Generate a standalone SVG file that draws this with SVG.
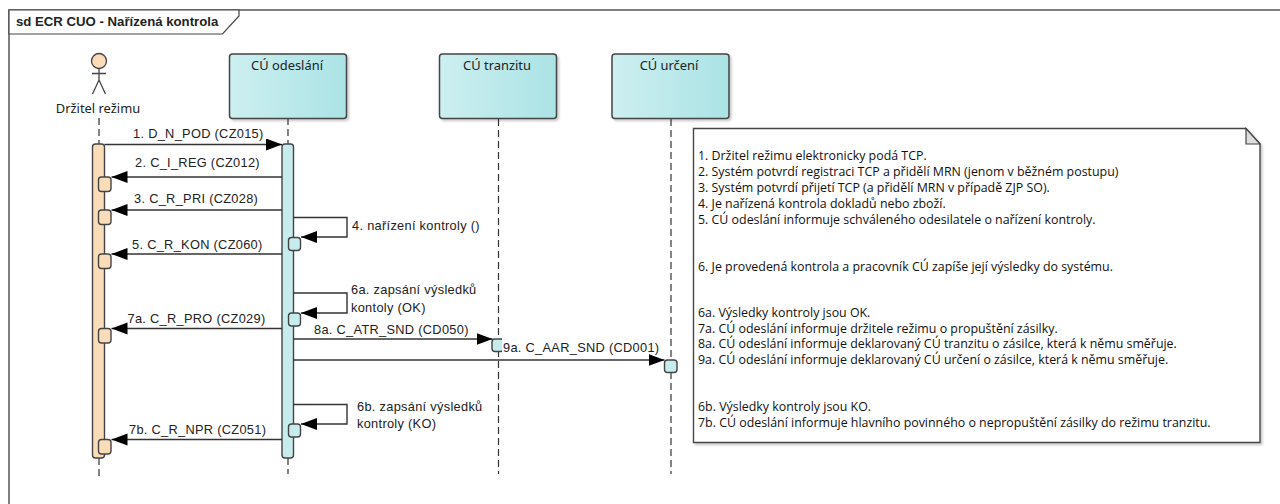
<svg xmlns="http://www.w3.org/2000/svg" width="1280" height="504" viewBox="0 0 1280 504">
<defs>
<linearGradient id="g" x1="0" x2="1" y1="0" y2="0"><stop offset="0" stop-color="#cdeff0"/><stop offset="1" stop-color="#abe3e5"/></linearGradient>
<marker id="a" markerUnits="userSpaceOnUse" markerWidth="17" markerHeight="13" refX="16" refY="6" orient="auto"><path d="M0 0L16 6L0 12Z" fill="#000"/></marker>
<filter id="s" x="-5%" y="-5%" width="115%" height="115%"><feDropShadow dx="2" dy="2" stdDeviation="1.2" flood-color="#000" flood-opacity=".2"/></filter>
</defs>
<style>
text{font-family:"Liberation Sans",Arial,sans-serif;font-size:12.8px;letter-spacing:.3px;fill:#222}
.n text{font-family:"Open Sans","Noto Sans",sans-serif;font-size:12.4px;letter-spacing:0;fill:#111}
.o{font-family:"Noto Sans",sans-serif;font-size:12.9px;letter-spacing:0;text-anchor:middle}
.box{fill:url(#g);stroke:#444;stroke-width:1.5;filter:url(#s)}
.ll{stroke:#333;stroke-width:1.2;stroke-dasharray:7 4;fill:none}
.ac{fill:#faddb8;stroke:#444;stroke-width:1.4}
.cu{fill:#c6ecee;stroke:#444;stroke-width:1.4}
.m{stroke:#333;stroke-width:1.4;fill:none;marker-end:url(#a)}
</style>
<rect width="1280" height="504" fill="#fff"/>
<g id="frame"><path d="M9 504V10H1280" fill="none" stroke="#555" stroke-width="1.5"/><path d="M9 10H239V16L222.500 34H9Z" fill="#fff" stroke="#444" stroke-width="1.2"/><text x="16" y="26" style="font-weight:700;font-size:13.200px;letter-spacing:0">sd ECR CUO - Nařízená kontrola</text></g>
<g id="lifelines">
<path class="ll" d="M99 118V144M99 458V480"/><path class="ll" d="M288 118V144M288 458V474"/><path class="ll" d="M498.500 119V474"/><path class="ll" d="M671 119V474"/>
</g>
<g id="actor"><circle cx="99" cy="61" r="7.500" fill="#faddb8" stroke="#444" stroke-width="1.3"/><path d="M99 68.500V80M92 73.500H106M92.500 94L99 80L105.500 94" fill="none" stroke="#444" stroke-width="1.3"/><text class="o" x="98" y="112.500">Držitel režimu</text></g>
<g id="cu-odeslani"><rect class="box" x="229.500" y="54" width="117" height="64.500" rx="3"/><text class="o" x="287" y="70">CÚ odeslání</text></g>
<g id="cu-tranzitu"><rect class="box" x="439.500" y="54" width="117" height="64.500" rx="3"/><text class="o" x="497" y="70">CÚ tranzitu</text></g>
<g id="cu-urceni"><rect class="box" x="612" y="54" width="117" height="64.500" rx="3"/><text class="o" x="669" y="70">CÚ určení</text></g>
<g id="activations">
<rect class="ac" x="92.500" y="144" width="12" height="314" rx="3"/><rect class="cu" x="282" y="144" width="11.500" height="314" rx="3"/>
<rect class="ac" x="98.500" y="177" width="12.500" height="14.500" rx="3"/><rect class="ac" x="98.500" y="210" width="12.500" height="14.500" rx="3"/><rect class="ac" x="98.500" y="254" width="12.500" height="14.500" rx="3"/><rect class="ac" x="98.500" y="328.500" width="12.500" height="14.500" rx="3"/><rect class="ac" x="98.500" y="439.500" width="12.500" height="14.500" rx="3"/>
<rect class="cu" x="288.500" y="237.500" width="12" height="13" rx="3"/><rect class="cu" x="288.500" y="313" width="12" height="13" rx="3"/><rect class="cu" x="288.500" y="424" width="12" height="13" rx="3"/>
<rect class="cu" x="492" y="339" width="12" height="12.500" rx="3"/><rect class="cu" x="664.500" y="360" width="12.500" height="12.500" rx="3"/>
</g>
<g id="connectors">
<path class="m" d="M104.500 144.500H282"/><path class="m" d="M282 177H111.500"/><path class="m" d="M282 210H111.500"/><path class="m" d="M282 254H111.500"/><path class="m" d="M282 328.500H111.500"/><path class="m" d="M282 439.500H111.500"/>
<path class="m" d="M293.500 217.500H347V237H301"/><path class="m" d="M293.500 293H347V313H301"/><path class="m" d="M293.500 404.500H347V424H301"/>
<path class="m" d="M293.500 339H492.500"/><path class="m" d="M293.500 360H664.500"/>
</g>
<g id="labels">
<rect x="502" y="338" width="60" height="15" fill="#fff"/>
<text x="133" y="137.500">1. D_N_POD (CZ015)</text><text x="135" y="166.500">2. C_I_REG (CZ012)</text><text x="134" y="202.500">3. C_R_PRI (CZ028)</text><text x="132" y="248.500">5. C_R_KON (CZ060)</text><text x="127.500" y="323">7a. C_R_PRO (CZ029)</text><text x="129" y="434">7b. C_R_NPR (CZ051)</text>
<text x="352" y="230">4. nařízení kontroly ()</text><text x="351" y="294">6a. zapsání výsledků</text><text x="351" y="312">kontoly (OK)</text><text x="314" y="333.500">8a. C_ATR_SND (CD050)</text><text x="503" y="351.500">9a. C_AAR_SND (CD001)</text><text x="357" y="410.500">6b. zapsání výsledků</text><text x="357" y="427.500">kontroly (KO)</text>
</g>
<g id="note" class="n"><path d="M693.500 128.500H1246L1260 144V442.500H693.500Z" fill="#fff" stroke="#444" stroke-width="1.4" filter="url(#s)"/><path d="M1246 128.500V144H1260Z" fill="#ddd" stroke="#444" stroke-width="1.2"/>
<text x="698" y="159.500">1. Držitel režimu elektronicky podá TCP.</text><text x="698" y="175.500">2. Systém potvrdí registraci TCP a přidělí MRN (jenom v běžném postupu)</text><text x="698" y="191.500">3. Systém potvrdí přijetí TCP (a přidělí MRN v případě ZJP SO).</text><text x="698" y="207.500">4. Je nařízená kontrola dokladů nebo zboží.</text><text x="698" y="224">5. CÚ odeslání informuje schváleného odesilatele o nařízení kontroly.</text><text x="698" y="270.500">6. Je provedená kontrola a pracovník CÚ zapíše její výsledky do systému.</text><text x="698" y="316.500">6a. Výsledky kontroly jsou OK.</text><text x="698" y="332.500">7a. CÚ odeslání informuje držitele režimu o propuštění zásilky.</text><text x="698" y="348">8a. CÚ odeslání informuje deklarovaný CÚ tranzitu o zásilce, která k němu směřuje.</text><text x="698" y="363.500">9a. CÚ odeslání informuje deklarovaný CÚ určení o zásilce, která k němu směřuje.</text><text x="698" y="410.500">6b. Výsledky kontroly jsou KO.</text><text x="698" y="426.500">7b. CÚ odeslání informuje hlavního povinného o nepropuštění zásilky do režimu tranzitu.</text>
</g>
</svg>
